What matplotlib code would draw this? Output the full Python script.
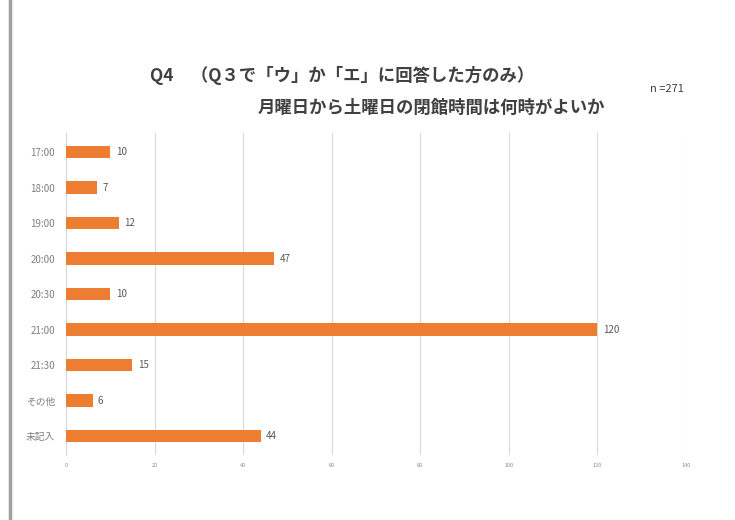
import matplotlib.pyplot as plt
from matplotlib.lines import Line2D

plt.rcParams['font.family'] = ['Noto Sans CJK JP', 'DejaVu Sans']

# データ
labels = ["17:00", "18:00", "19:00", "20:00", "20:30", "21:00", "21:30", "その他", "未記入"]
counts = [10, 7, 12, 47, 10, 120, 15, 6, 44]
x_ticks = [0, 20, 40, 60, 80, 100, 120, 140]

fig = plt.figure(figsize=(7.35, 5.2), dpi=100)
ax = fig.add_axes([0.0898, 0.125, 0.8435, 0.619])

pos = list(range(len(labels)))
ax.barh(pos, counts, height=0.36, color="#ED7D31", zorder=3)
for p, c in zip(pos, counts):
    ax.text(c + 1.2, p, str(c), va="center", ha="left", fontsize=7, color="#595959")

ax.set_ylim(len(labels) - 0.465, -0.535)
ax.set_xlim(0, 140)
ax.set_yticks(pos)
ax.set_yticklabels(labels, fontsize=7, color="#7f7f7f")
ax.set_xticks(x_ticks)
ax.set_xticklabels([str(v) for v in x_ticks], fontsize=4, color="#8c8c8c")
ax.tick_params(axis="y", length=0, pad=8)
ax.tick_params(axis="x", length=0, pad=6)
ax.grid(axis="x", color="#d9d9d9", lw=0.8, zorder=0)
for s in ["top", "right", "bottom"]:
    ax.spines[s].set_visible(False)
ax.spines["left"].set_color("#d9d9d9")

fig.text(0.204, 0.855, "Q4　（Q３で「ウ」か「エ」に回答した方のみ）",
         fontsize=12.5, color="#404040", ha="left", va="center", fontweight="bold")
fig.text(0.351, 0.792, "月曜日から土曜日の閉館時間は何時がよいか",
         fontsize=12.5, color="#404040", ha="left", va="center", fontweight="bold")
fig.text(0.885, 0.828, "n =271", fontsize=8, color="#404040", ha="left", va="center")

# 左端の枠線
fig.add_artist(Line2D([0.014, 0.014], [0, 1], transform=fig.transFigure,
                      color="#a0a0a0", lw=2.5))

fig.savefig("out.png", dpi=100)
